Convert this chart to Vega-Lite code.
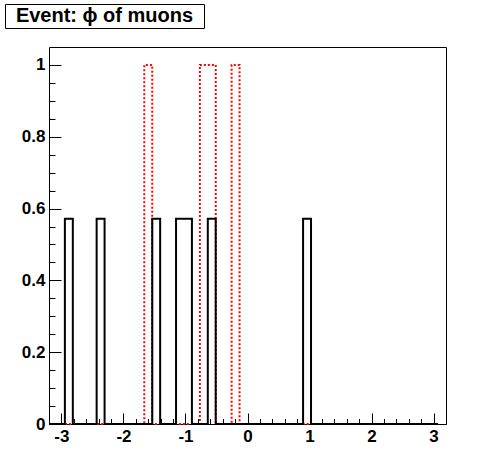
{
  "$schema": "https://vega.github.io/schema/vega-lite/v6.json",
  "padding": {"left": 4, "top": 3, "right": 5, "bottom": 5},
  "background": "white",
  "datasets": {
    "hist": [
      {"phi_low": -3.2, "hist1": 0, "hist2": 0},
      {"phi_low": -3.072, "hist1": 0, "hist2": 0},
      {"phi_low": -2.944, "hist1": 0.5714, "hist2": 0},
      {"phi_low": -2.816, "hist1": 0, "hist2": 0},
      {"phi_low": -2.688, "hist1": 0, "hist2": 0},
      {"phi_low": -2.56, "hist1": 0, "hist2": 0},
      {"phi_low": -2.432, "hist1": 0.5714, "hist2": 0},
      {"phi_low": -2.304, "hist1": 0, "hist2": 0},
      {"phi_low": -2.176, "hist1": 0, "hist2": 0},
      {"phi_low": -2.048, "hist1": 0, "hist2": 0},
      {"phi_low": -1.92, "hist1": 0, "hist2": 0},
      {"phi_low": -1.792, "hist1": 0, "hist2": 0},
      {"phi_low": -1.664, "hist1": 0, "hist2": 1},
      {"phi_low": -1.536, "hist1": 0.5714, "hist2": 0},
      {"phi_low": -1.408, "hist1": 0, "hist2": 0},
      {"phi_low": -1.28, "hist1": 0, "hist2": 0},
      {"phi_low": -1.152, "hist1": 0.5714, "hist2": 0},
      {"phi_low": -1.024, "hist1": 0.5714, "hist2": 0},
      {"phi_low": -0.896, "hist1": 0, "hist2": 0},
      {"phi_low": -0.768, "hist1": 0, "hist2": 1},
      {"phi_low": -0.64, "hist1": 0.5714, "hist2": 1},
      {"phi_low": -0.512, "hist1": 0, "hist2": 0},
      {"phi_low": -0.384, "hist1": 0, "hist2": 0},
      {"phi_low": -0.256, "hist1": 0, "hist2": 1},
      {"phi_low": -0.128, "hist1": 0, "hist2": 0},
      {"phi_low": 0, "hist1": 0, "hist2": 0},
      {"phi_low": 0.128, "hist1": 0, "hist2": 0},
      {"phi_low": 0.256, "hist1": 0, "hist2": 0},
      {"phi_low": 0.384, "hist1": 0, "hist2": 0},
      {"phi_low": 0.512, "hist1": 0, "hist2": 0},
      {"phi_low": 0.64, "hist1": 0, "hist2": 0},
      {"phi_low": 0.768, "hist1": 0, "hist2": 0},
      {"phi_low": 0.896, "hist1": 0.5714, "hist2": 0},
      {"phi_low": 1.024, "hist1": 0, "hist2": 0},
      {"phi_low": 1.152, "hist1": 0, "hist2": 0},
      {"phi_low": 1.28, "hist1": 0, "hist2": 0},
      {"phi_low": 1.408, "hist1": 0, "hist2": 0},
      {"phi_low": 1.536, "hist1": 0, "hist2": 0},
      {"phi_low": 1.664, "hist1": 0, "hist2": 0},
      {"phi_low": 1.792, "hist1": 0, "hist2": 0},
      {"phi_low": 1.92, "hist1": 0, "hist2": 0},
      {"phi_low": 2.048, "hist1": 0, "hist2": 0},
      {"phi_low": 2.176, "hist1": 0, "hist2": 0},
      {"phi_low": 2.304, "hist1": 0, "hist2": 0},
      {"phi_low": 2.432, "hist1": 0, "hist2": 0},
      {"phi_low": 2.56, "hist1": 0, "hist2": 0},
      {"phi_low": 2.688, "hist1": 0, "hist2": 0},
      {"phi_low": 2.816, "hist1": 0, "hist2": 0},
      {"phi_low": 2.944, "hist1": 0, "hist2": 0},
      {"phi_low": 3.072, "hist1": 0, "hist2": 0}
    ]
  },
  "spacing": 17,
  "vconcat": [
    {
      "width": 199,
      "height": 24,
      "view": {"stroke": "black", "strokeWidth": 1, "fill": "white"},
      "data": {"values": [{"label": "Event: ϕ of muons"}]},
      "mark": {"type": "text", "font": "Liberation Sans", "fontWeight": "bold", "fontSize": 20, "color": "black"},
      "encoding": {"text": {"field": "label", "type": "nominal"}}
    },
    {
      "spacing": 0,
      "hconcat": [
        {
          "width": 15,
          "height": 10,
          "view": {"stroke": null},
          "data": {"values": []},
          "mark": "point"
        },
        {
          "width": 397,
          "height": 377,
          "data": {"name": "hist"},
          "layer": [
            {
              "mark": {"type": "line", "interpolate": "step-after", "color": "#ff0000", "strokeWidth": 2, "strokeDash": [2, 2]},
              "encoding": {
                "x": {
                  "field": "phi_low", "type": "quantitative",
                  "scale": {"domain": [-3.2, 3.2], "nice": false, "zero": false},
                  "axis": {"orient": "bottom", "title": null, "labels": false, "tickSize": -5.5,
                    "values": [-3.2, -3.0, -2.8, -2.6, -2.4, -2.2, -2.0, -1.8, -1.6, -1.4, -1.2, -1.0, -0.8, -0.6, -0.4, -0.2, 0, 0.2, 0.4, 0.6, 0.8, 1.0, 1.2, 1.4, 1.6, 1.8, 2.0, 2.2, 2.4, 2.6, 2.8, 3.0, 3.2]}
                },
                "y": {
                  "field": "hist2", "type": "quantitative",
                  "scale": {"domain": [0, 1.05], "nice": false},
                  "axis": {"orient": "left", "title": null, "labels": false, "tickSize": -6,
                    "values": [0, 0.05, 0.1, 0.15, 0.2, 0.25, 0.3, 0.35, 0.4, 0.45, 0.5, 0.55, 0.6, 0.65, 0.7, 0.75, 0.8, 0.85, 0.9, 0.95, 1.0]}
                }
              }
            },
            {
              "mark": {"type": "line", "interpolate": "step-after", "color": "black", "strokeWidth": 2},
              "encoding": {
                "x": {
                  "field": "phi_low", "type": "quantitative",
                  "scale": {"domain": [-3.2, 3.2], "nice": false, "zero": false},
                  "axis": {"orient": "bottom", "title": null, "tickSize": -11, "labelPadding": 15,
                    "values": [-3, -2, -1, 0, 1, 2, 3],
                    "labelExpr": "'' + datum.value"}
                },
                "y": {
                  "field": "hist1", "type": "quantitative",
                  "scale": {"domain": [0, 1.05], "nice": false},
                  "axis": {"orient": "left", "title": null, "tickSize": -12, "labelPadding": 16,
                    "values": [0, 0.2, 0.4, 0.6, 0.8, 1],
                    "labelExpr": "'' + datum.value"}
                }
              }
            }
          ],
          "resolve": {"axis": {"x": "independent", "y": "independent"}}
        }
      ]
    }
  ],
  "config": {
    "view": {"stroke": "black", "strokeWidth": 1},
    "axis": {
      "domain": false, "grid": false,
      "labelFont": "Liberation Sans", "labelFontWeight": "bold", "labelFontSize": 17, "labelColor": "black",
      "tickColor": "black", "tickWidth": 1
    }
  }
}
